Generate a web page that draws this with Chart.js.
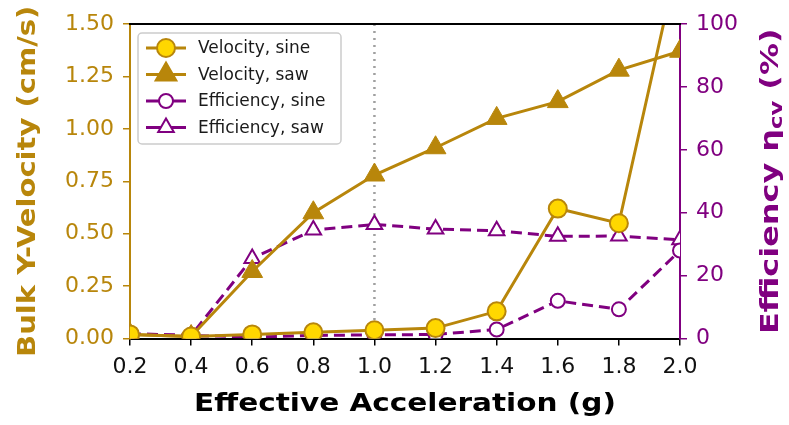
<!DOCTYPE html>
<html>
<head>
<meta charset="utf-8">
<script src="https://cdn.jsdelivr.net/npm/chart.js@4/dist/chart.umd.min.js"></script>
<style>
  html, body { margin: 0; padding: 0; background: #fff; }
</style>
</head>
<body>
<canvas id="myChart" width="789" height="425"></canvas>
<script>
// effective acceleration (g)
const accel = [0.2, 0.4, 0.6, 0.8, 1.0, 1.2, 1.4, 1.6, 1.8, 2.0];
// bulk y-velocity (cm/s), left axis
const velSine = [0.02, 0.01, 0.02, 0.03, 0.04, 0.05, 0.13, 0.62, 0.55, 1.85];
const velSaw  = [0.02, 0.01, 0.32, 0.60, 0.78, 0.91, 1.05, 1.13, 1.28, 1.37];
// efficiency (%), right axis
const effSine = [1.5, 1.0, 0.5, 1.0, 1.2, 1.3, 2.9, 12.0, 9.3, 28.0];
const effSaw  = [1.5, 1.0, 25.5, 34.5, 36.3, 34.8, 34.3, 32.5, 32.6, 31.4];

const GOLD = '#B8860B';
const GOLD_FACE = '#FFD700';
const PURPLE = '#800080';
const TITLE_FONT = 'bold 24px "DejaVu Sans"';

const pts = (ys) => accel.map((x, i) => ({x: x, y: ys[i]}));

const legendItems = [
  {label: 'Velocity, sine', color: GOLD, face: GOLD_FACE, style: 'circle', r: 9},
  {label: 'Velocity, saw', color: GOLD, face: GOLD, style: 'triangle', r: 12},
  {label: 'Efficiency, sine', color: PURPLE, face: '#fff', style: 'circle', r: 7},
  {label: 'Efficiency, saw', color: PURPLE, face: '#fff', style: 'triangle', r: 9}
];

// parts: [[text, font, dy], ...] drawn centred at (x, y), rotated by rot,
// stretched along the text (titles in the picture are drawn wide)
function drawTitle(ctx, parts, x, y, rot, color, stretch) {
  ctx.save();
  ctx.translate(x, y);
  ctx.rotate(rot);
  ctx.scale(stretch, 1);
  ctx.fillStyle = color;
  ctx.textBaseline = 'middle';
  ctx.textAlign = 'left';
  let total = 0;
  parts.forEach(p => { ctx.font = p[1]; total += ctx.measureText(p[0]).width; });
  let sx = -total / 2;
  parts.forEach(p => {
    ctx.font = p[1];
    ctx.fillText(p[0], sx, p[2]);
    sx += ctx.measureText(p[0]).width;
  });
  ctx.restore();
}

const framePlugin = {
  id: 'frame',
  beforeDatasetsDraw(chart) {
    const ctx = chart.ctx, a = chart.chartArea;
    const x1 = chart.scales.x.getPixelForValue(1.0);
    ctx.save();
    ctx.strokeStyle = '#a0a0a0';
    ctx.lineWidth = 2.5;
    ctx.setLineDash([2, 5]);
    ctx.beginPath();
    ctx.moveTo(x1, a.top);
    ctx.lineTo(x1, a.bottom);
    ctx.stroke();
    ctx.restore();
  },
  afterDraw(chart) {
    const ctx = chart.ctx, a = chart.chartArea;
    ctx.save();
    ctx.strokeStyle = '#000';
    ctx.lineWidth = 2;
    ctx.beginPath();
    ctx.moveTo(a.left - 1, a.top);
    ctx.lineTo(a.right + 1, a.top);
    ctx.stroke();

    // legend
    ctx.fillStyle = 'rgba(255,255,255,0.85)';
    ctx.strokeStyle = '#cccccc';
    ctx.lineWidth = 1.5;
    ctx.beginPath();
    ctx.roundRect(138, 33, 203, 111, 4);
    ctx.fill();
    ctx.stroke();
    legendItems.forEach((it, i) => {
      const cy = 48 + i * 26.5;
      ctx.strokeStyle = it.color;
      ctx.lineWidth = 3;
      ctx.beginPath();
      ctx.moveTo(146, cy);
      ctx.lineTo(186, cy);
      ctx.stroke();
      ctx.fillStyle = it.face;
      ctx.lineWidth = 2;
      ctx.beginPath();
      if (it.style === 'circle') {
        ctx.arc(166, cy, it.r, 0, Math.PI * 2);
      } else {
        const r = it.r;
        ctx.moveTo(166, cy - r);
        ctx.lineTo(166 + r * 0.866, cy + r / 2);
        ctx.lineTo(166 - r * 0.866, cy + r / 2);
        ctx.closePath();
      }
      ctx.fill();
      ctx.stroke();
      ctx.fillStyle = '#1a1a1a';
      ctx.font = '17px "DejaVu Sans"';
      ctx.textBaseline = 'middle';
      ctx.textAlign = 'left';
      ctx.fillText(it.label, 198, cy + 1);
    });
    ctx.restore();

    // axis titles
    const midY = (a.top + a.bottom) / 2;
    drawTitle(ctx, [['Effective Acceleration (g)', TITLE_FONT, 0]], 405, 405, 0, '#000', 1.23);
    drawTitle(ctx, [['Bulk Y-Velocity (cm/s)', TITLE_FONT, 0]], 29, midY, -Math.PI / 2, GOLD, 1.21);
    drawTitle(ctx, [
      ['Efficiency η', TITLE_FONT, 0],
      ['cv', 'bold 17px "DejaVu Sans"', 6],
      [' (%)', TITLE_FONT, 0]
    ], 772, midY, -Math.PI / 2, PURPLE, 1.33);
  }
};

const ctxx = document.getElementById('myChart').getContext('2d');
const chart = new Chart(ctxx, {
  type: 'line',
  data: {
    datasets: [
      {
        label: 'Velocity, sine', data: pts(velSine), yAxisID: 'y', clip: 0,
        borderColor: GOLD, borderWidth: 3, backgroundColor: GOLD_FACE,
        pointStyle: 'circle', pointRadius: 9, pointBorderWidth: 2,
        pointBorderColor: GOLD, pointBackgroundColor: GOLD_FACE
      },
      {
        label: 'Velocity, saw', data: pts(velSaw), yAxisID: 'y', clip: 0,
        borderColor: GOLD, borderWidth: 3, backgroundColor: GOLD,
        pointStyle: 'triangle', pointRadius: 12, pointBorderWidth: 1,
        pointBorderColor: GOLD, pointBackgroundColor: GOLD
      },
      {
        label: 'Efficiency, sine', data: pts(effSine), yAxisID: 'y1', clip: 0,
        borderColor: PURPLE, borderWidth: 3, borderDash: [11, 6],
        pointStyle: 'circle', pointRadius: 7, pointBorderWidth: 2,
        pointBorderColor: PURPLE, pointBackgroundColor: '#fff'
      },
      {
        label: 'Efficiency, saw', data: pts(effSaw), yAxisID: 'y1', clip: 0,
        borderColor: PURPLE, borderWidth: 3, borderDash: [11, 6],
        pointStyle: 'triangle', pointRadius: 9, pointBorderWidth: 2,
        pointBorderColor: PURPLE, pointBackgroundColor: '#fff'
      }
    ]
  },
  options: {
    responsive: false,
    animation: false,
    layout: {padding: {top: 24, right: 42, left: 56, bottom: 37}},
    plugins: {legend: {display: false}, tooltip: {enabled: false}},
    scales: {
      x: {
        type: 'linear', min: 0.2, max: 2.0,
        border: {color: '#000', width: 2},
        grid: {drawOnChartArea: false, tickLength: 7, color: '#000', lineWidth: 1.5},
        ticks: {
          stepSize: 0.2, color: '#111', padding: 8,
          font: {family: 'DejaVu Sans', size: 22},
          callback: (v) => v.toFixed(1)
        }
      },
      y: {
        position: 'left', min: 0, max: 1.5,
        border: {color: GOLD, width: 2},
        grid: {drawOnChartArea: false, tickLength: 7, color: GOLD, lineWidth: 1.5},
        ticks: {
          stepSize: 0.25, color: GOLD, padding: 9,
          font: {family: 'DejaVu Sans', size: 22},
          callback: (v) => v.toFixed(2)
        }
      },
      y1: {
        position: 'right', min: 0, max: 100,
        border: {color: PURPLE, width: 2},
        grid: {drawOnChartArea: false, tickLength: 7, color: PURPLE, lineWidth: 1.5},
        ticks: {
          stepSize: 20, color: PURPLE, padding: 9,
          font: {family: 'DejaVu Sans', size: 22}
        }
      }
    }
  },
  plugins: [framePlugin]
});
</script>
</body>
</html>
